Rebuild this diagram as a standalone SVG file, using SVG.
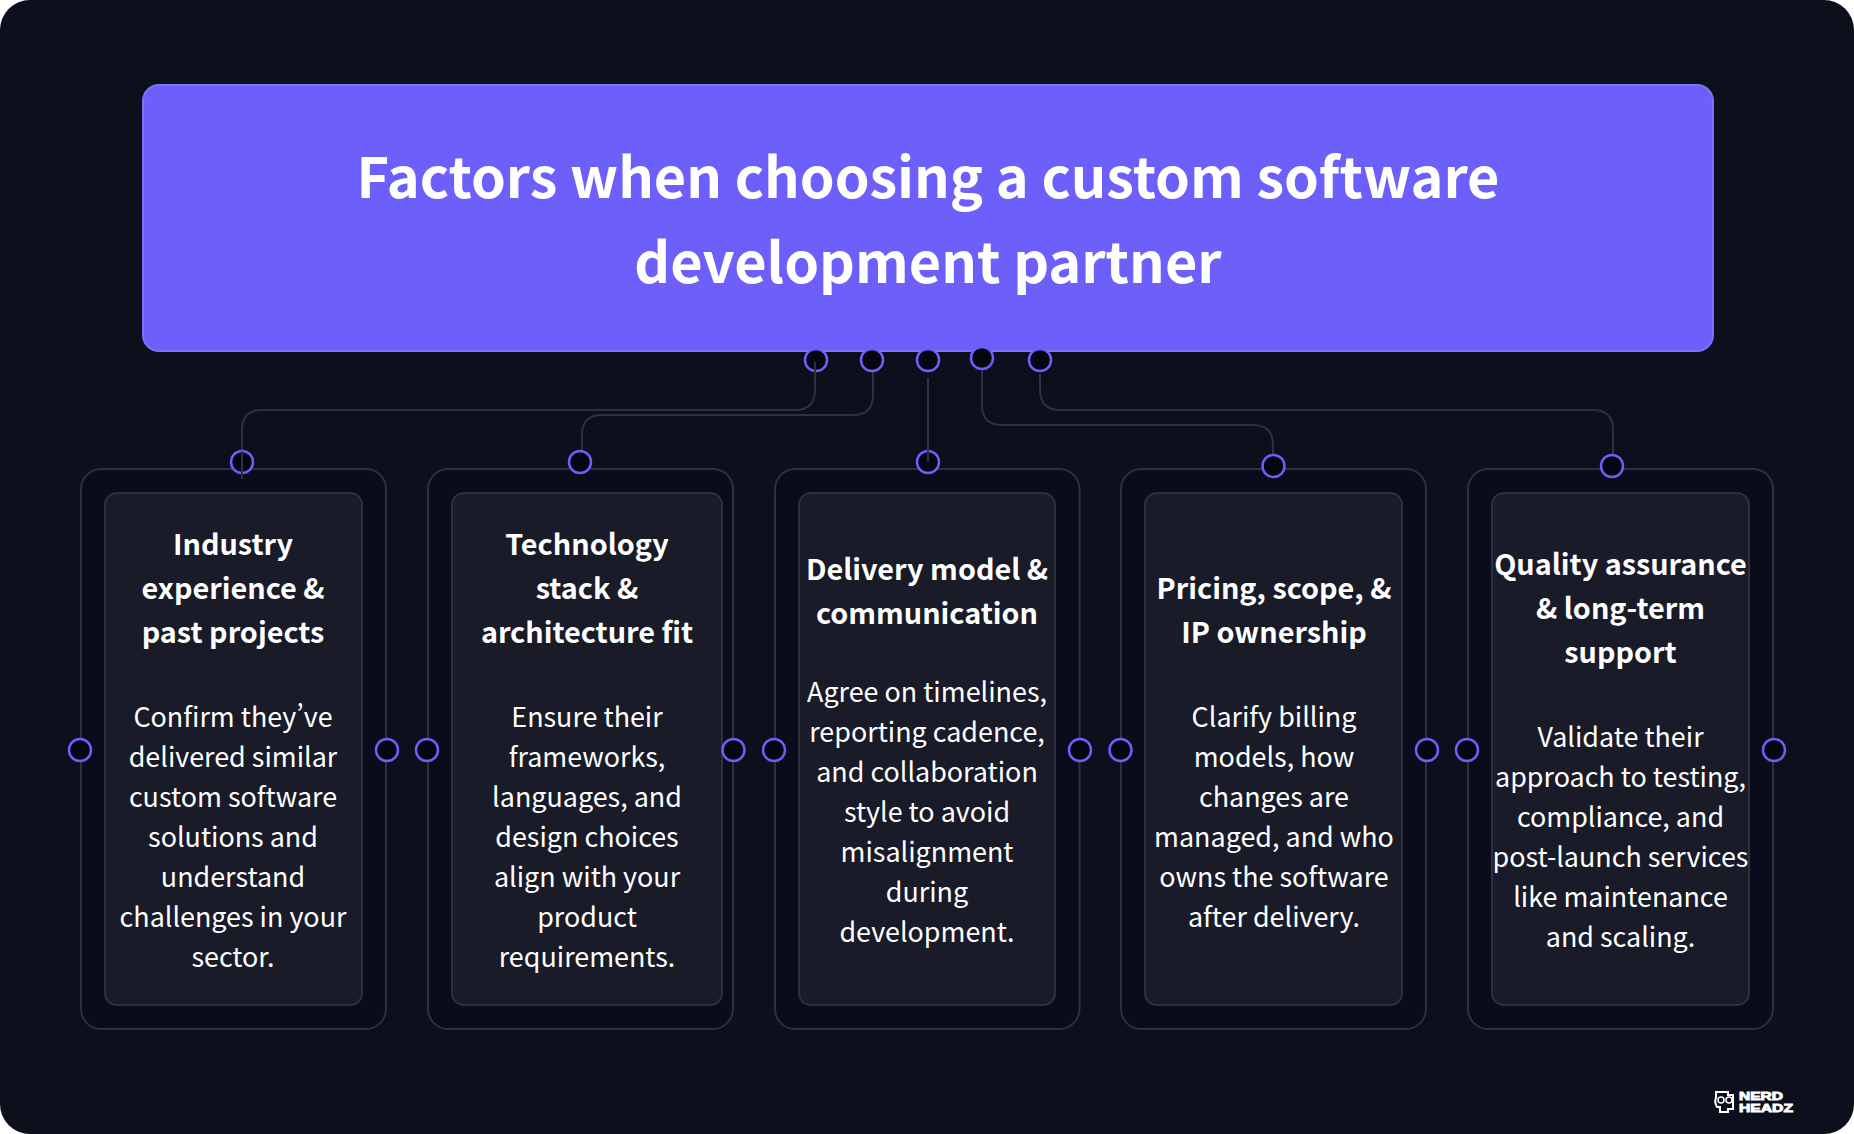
<svg xmlns="http://www.w3.org/2000/svg" width="1854" height="1134" viewBox="0 0 1854 1134">
<style>
text{font-family:"Noto Sans CJK SC","Noto Sans",sans-serif;fill:#fff;text-anchor:middle;font-feature-settings:"pwid"}
.t{font-size:55.800px;font-weight:700}
.h{font-size:28.800px;font-weight:700}
.b{font-size:26.900px;font-weight:400}
.o{fill:#0a0c1b;stroke:#2e303c;stroke-width:2}
.i{fill:#191b28;stroke:#2e303c;stroke-width:2}
.c{fill:#05060f;stroke:#6c5ffa;stroke-width:2.5}
.l{fill:none;stroke:#2e303c;stroke-width:2}
.g{font-family:"Liberation Sans",sans-serif;font-size:10.400px;font-weight:700;text-anchor:start;stroke:#fff;stroke-width:.8}
</style>
<rect width="1854" height="1134" fill="#fff"/>
<rect width="1854" height="1134" rx="30" fill="#0c0f1c"/>
<g id="header">
<rect x="143" y="85" width="1570" height="266" rx="16" fill="#6c5ffa" stroke="#7d72fb" stroke-width="2"/>
<text class="t" x="928" y="198">Factors when choosing a custom software</text>
<text class="t" x="928" y="283">development partner</text>
</g>
<g id="card1">
<rect class="o" x="81" y="469" width="305" height="560" rx="20"/>
<rect class="i" x="105" y="493" width="257" height="512" rx="12"/>
<text class="h" x="233" y="555">Industry</text><text class="h" x="233" y="599">experience &amp;</text><text class="h" x="233" y="643">past projects</text>
<text class="b" x="233" y="727">Confirm they’ve</text><text class="b" x="233" y="767">delivered similar</text><text class="b" x="233" y="807">custom software</text><text class="b" x="233" y="847">solutions and</text><text class="b" x="233" y="887">understand</text><text class="b" x="233" y="927">challenges in your</text><text class="b" x="233" y="967">sector.</text>
</g>
<g id="card2">
<rect class="o" x="428" y="469" width="305" height="560" rx="20"/>
<rect class="i" x="452" y="493" width="270" height="512" rx="12"/>
<text class="h" x="587" y="555">Technology</text><text class="h" x="587" y="599">stack &amp;</text><text class="h" x="587" y="643">architecture fit</text>
<text class="b" x="587" y="727">Ensure their</text><text class="b" x="587" y="767">frameworks,</text><text class="b" x="587" y="807">languages, and</text><text class="b" x="587" y="847">design choices</text><text class="b" x="587" y="887">align with your</text><text class="b" x="587" y="927">product</text><text class="b" x="587" y="967">requirements.</text>
</g>
<g id="card3">
<rect class="o" x="775" y="469" width="304.500" height="560" rx="20"/>
<rect class="i" x="799" y="493" width="256" height="512" rx="12"/>
<text class="h" x="927" y="580">Delivery model &amp;</text><text class="h" x="927" y="624">communication</text>
<text class="b" x="927" y="702">Agree on timelines,</text><text class="b" x="927" y="742">reporting cadence,</text><text class="b" x="927" y="782">and collaboration</text><text class="b" x="927" y="822">style to avoid</text><text class="b" x="927" y="862">misalignment</text><text class="b" x="927" y="902">during</text><text class="b" x="927" y="942">development.</text>
</g>
<g id="card4">
<rect class="o" x="1121" y="469" width="305" height="560" rx="20"/>
<rect class="i" x="1145" y="493" width="257" height="512" rx="12"/>
<text class="h" x="1274" y="599">Pricing, scope, &amp;</text><text class="h" x="1274" y="643">IP ownership</text>
<text class="b" x="1274" y="727">Clarify billing</text><text class="b" x="1274" y="767">models, how</text><text class="b" x="1274" y="807">changes are</text><text class="b" x="1274" y="847">managed, and who</text><text class="b" x="1274" y="887">owns the software</text><text class="b" x="1274" y="927">after delivery.</text>
</g>
<g id="card5">
<rect class="o" x="1468" y="469" width="305" height="560" rx="20"/>
<rect class="i" x="1492" y="493" width="257" height="512" rx="12"/>
<text class="h" x="1620.500" y="575">Quality assurance</text><text class="h" x="1620.500" y="619">&amp; long-term</text><text class="h" x="1620.500" y="663">support</text>
<text class="b" x="1620.500" y="747">Validate their</text><text class="b" x="1620.500" y="787">approach to testing,</text><text class="b" x="1620.500" y="827">compliance, and</text><text class="b" x="1620.500" y="867">post-launch services</text><text class="b" x="1620.500" y="907">like maintenance</text><text class="b" x="1620.500" y="947">and scaling.</text>
</g>
<g id="connectors">
<path class="l" d="M815 362V390Q815 410 795 410H262Q242 410 242 430V479"/>
<path class="l" d="M873 371V395Q873 415 853 415H602Q582 415 582 435V452"/>
<path class="l" d="M928 378V462"/>
<path class="l" d="M982 369V405Q982 425 1002 425H1253Q1273 425 1273 445V456"/>
<path class="l" d="M1040 374V390Q1040 410 1060 410H1593Q1613 410 1613 430V456"/>
</g>
<g id="ports">
<circle class="c" cx="816" cy="360" r="11"/><circle class="c" cx="872" cy="360" r="11"/><circle class="c" cx="928" cy="360" r="11"/><circle class="c" cx="982" cy="358" r="11"/><circle class="c" cx="1040" cy="360" r="11"/>
<circle class="c" cx="242" cy="462" r="11"/><circle class="c" cx="580" cy="462" r="11"/><circle class="c" cx="928" cy="462" r="11"/><circle class="c" cx="1273.500" cy="466" r="11"/><circle class="c" cx="1612" cy="466" r="11"/>
<circle class="c" cx="80" cy="750" r="11"/><circle class="c" cx="387" cy="750" r="11"/><circle class="c" cx="427" cy="750" r="11"/><circle class="c" cx="733.500" cy="750" r="11"/><circle class="c" cx="774" cy="750" r="11"/><circle class="c" cx="1080" cy="750" r="11"/><circle class="c" cx="1120.500" cy="750" r="11"/><circle class="c" cx="1427" cy="750" r="11"/><circle class="c" cx="1467" cy="750" r="11"/><circle class="c" cx="1774" cy="750" r="11"/>
</g>
<path class="l" d="M815 362V378M242 451V479M928 440V462"/>
<g id="logo">
<path d="M1716 1092h12v3h5v14h-5v3h-8v-5h-3q-3-6-1-9z" fill="none" stroke="#fff" stroke-width="2"/>
<circle cx="1721" cy="1100" r="3" fill="none" stroke="#fff" stroke-width="1.500"/><circle cx="1729" cy="1100" r="3" fill="none" stroke="#fff" stroke-width="1.500"/>
<text class="g" x="1739" y="1099.500" textLength="44" lengthAdjust="spacingAndGlyphs">NERD</text>
<text class="g" x="1739" y="1111.500" textLength="54" lengthAdjust="spacingAndGlyphs">HEADZ</text>
</g>
</svg>
